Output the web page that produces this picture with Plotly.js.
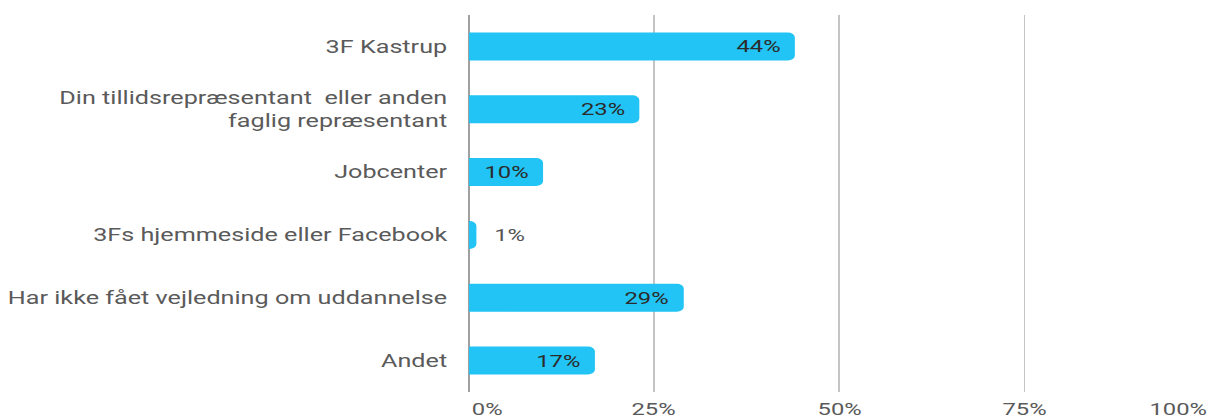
<!DOCTYPE html>
<html><head><meta charset="utf-8">
<script src="https://cdn.plot.ly/plotly-3.0.1.min.js"></script>
<style>
html,body{margin:0;padding:0;overflow:hidden;background:#fff}
#wrap{width:1218px;height:418px;overflow:hidden}
#chart{width:870px;height:418px;transform:scaleX(1.4);transform-origin:0 0}
</style>
</head><body><div id="wrap"><div id="chart"></div></div>
<script>
const categories = [
  '3F Kastrup',
  'Din tillidsrepræsentant  eller anden<br>faglig repræsentant',
  'Jobcenter',
  '3Fs hjemmeside eller Facebook',
  'Har ikke fået vejledning om uddannelse',
  'Andet'
];
const values = [44, 23, 10, 1, 29, 17];
const tickValues = [0, 25, 50, 75, 100];
const tickLabels = ['0%', '25%', '50%', '75%', '100%'];

const FONT = 'Roboto, "Noto Sans", sans-serif';

const barLabels = values.map((v, i) => {
  const inside = v >= 5;
  return {
    x: v, y: categories[i], xref: 'x', yref: 'y',
    text: v + '%', showarrow: false,
    xanchor: inside ? 'right' : 'left',
    xshift: inside ? -8 : 11,
    font: {family: FONT, size: 17, color: inside ? '#2b2b2b' : '#555555'}
  };
});

const axisLabels = tickValues.map((t, i) => ({
  x: t, y: 0, xref: 'x', yref: 'paper',
  text: tickLabels[i], showarrow: false,
  xanchor: i === 0 ? 'left' : (i === tickValues.length - 1 ? 'right' : 'center'),
  yanchor: 'top', yshift: -5,
  font: {family: FONT, size: 17, color: '#5a5a5a'}
}));

const trace = {
  type: 'bar', orientation: 'h',
  x: values, y: categories,
  marker: {color: '#21c4f5', cornerradius: 5},
  hoverinfo: 'none'
};

const layout = {
  width: 870, height: 418,
  margin: {l: 335, r: 6, t: 15, b: 26, pad: 0},
  paper_bgcolor: '#ffffff', plot_bgcolor: '#ffffff',
  showlegend: false,
  bargap: 0.555,
  xaxis: {
    range: [0, 100], tickvals: tickValues, showticklabels: false,
    showgrid: true, gridcolor: '#c4c4c4', gridwidth: 1.3,
    zeroline: true, zerolinecolor: '#a0a0a0', zerolinewidth: 2,
    showline: false, fixedrange: true
  },
  yaxis: {
    autorange: 'reversed', showgrid: false, zeroline: false, showline: false,
    ticks: 'outside', ticklen: 11, tickcolor: 'rgba(0,0,0,0)',
    tickfont: {family: FONT, size: 18, color: '#5a5a5a'},
    fixedrange: true
  },
  annotations: barLabels.concat(axisLabels),
  font: {family: FONT}
};

Plotly.newPlot('chart', [trace], layout, {displayModeBar: false, staticPlot: true});
</script>
</body></html>
